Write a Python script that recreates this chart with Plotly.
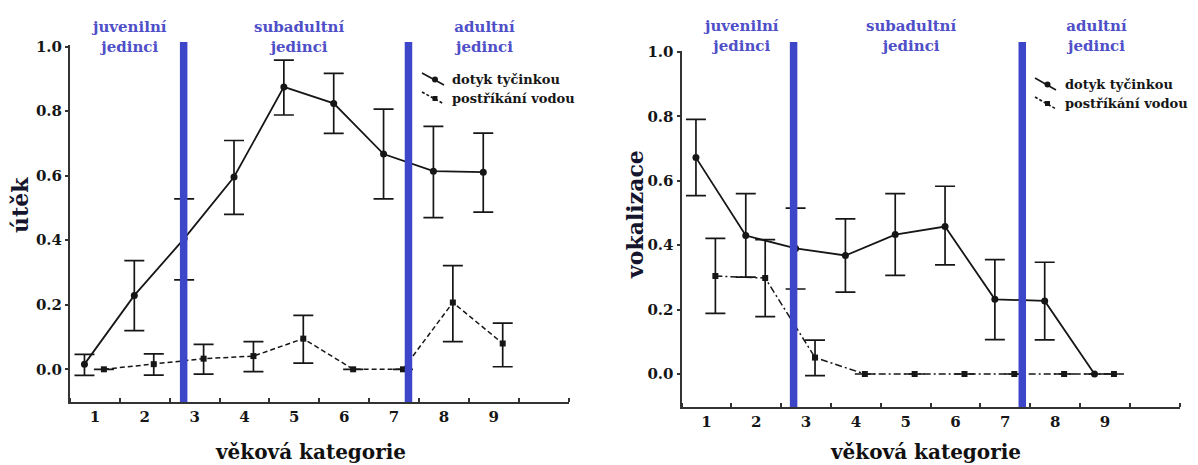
import plotly.graph_objects as go

# ---------------- data ----------------
categories = [1, 2, 3, 4, 5, 6, 7, 8, 9]
tick_labels = ["1", "2", "3", "4", "5", "6", "7", "8", "9"]
legend_names = ["dotyk tyčinkou", "postříkání vodou"]
section_labels = ["juvenilní<br>jedinci", "subadultní<br>jedinci", "adultní<br>jedinci"]
x_title = "věková kategorie"
y_titles = ["útěk", "vokalizace"]

# left panel: útěk
utek_touch = [0.016, 0.229, 0.405, 0.596, 0.875, 0.824, 0.667, 0.614, 0.611]
utek_touch_hi = [0.046, 0.337, 0.528, 0.709, 0.958, 0.917, 0.806, 0.753, 0.732]
utek_touch_lo = [-0.019, 0.120, 0.277, 0.480, 0.788, 0.731, 0.528, 0.470, 0.487]
utek_water = [0.0, 0.016, 0.033, 0.041, 0.095, 0.0, 0.0, 0.207, 0.080]
utek_water_hi = [None, 0.048, 0.077, 0.086, 0.167, None, None, 0.321, 0.143]
utek_water_lo = [None, -0.018, -0.015, -0.007, 0.019, None, None, 0.086, 0.008]

# right panel: vokalizace
vok_touch = [0.672, 0.430, 0.390, 0.368, 0.433, 0.458, 0.232, 0.227, 0.0]
vok_touch_hi = [0.791, 0.560, 0.515, 0.482, 0.560, 0.583, 0.355, 0.347, None]
vok_touch_lo = [0.554, 0.301, 0.264, 0.254, 0.306, 0.339, 0.107, 0.106, None]
vok_water = [0.304, 0.298, 0.051, 0.0, 0.0, 0.0, 0.0, 0.0, 0.0]
vok_water_hi = [0.421, 0.417, 0.105, None, None, None, None, None, None]
vok_water_lo = [0.188, 0.178, -0.005, None, None, None, None, None, None]

# stage boundaries (in category units)
bounds_left = [2.78, 7.29]
bounds_right = [2.75, 7.34]

# ---------------- styling ----------------
FONT = "DejaVu Serif"
INK = "#161616"
BLUE = "#3d45c9"
LBLUE = "#4f4fc8"
TITLE_INK = "#15152e"
OFF_T, OFF_W = -0.21, 0.18

W, H = 1198, 465
OX, OY = 8, 8  # page offset of the plot div


def px(x):
    return (x - OX) / W


def py(y):
    return 1 - (y - OY) / H


def errs(v, hi, lo):
    plus = [None if h is None else h - x for x, h in zip(v, hi)]
    minus = [None if l is None else x - l for x, l in zip(v, lo)]
    return plus, minus


fig = go.Figure()


def add_panel(xa, ya, vt, vth, vtl, vw, vwh, vwl, wdash):
    p, m = errs(vt, vth, vtl)
    fig.add_trace(go.Scatter(
        x=[c + OFF_T for c in categories], y=vt, mode="lines+markers",
        name=legend_names[0], xaxis=xa, yaxis=ya, showlegend=False,
        line=dict(color=INK, width=1.8),
        marker=dict(symbol="circle", size=7, color=INK),
        error_y=dict(type="data", array=p, arrayminus=m, symmetric=False,
                     color=INK, thickness=1.7, width=10)))
    p, m = errs(vw, vwh, vwl)
    fig.add_trace(go.Scatter(
        x=[c + OFF_W for c in categories], y=vw, mode="lines+markers",
        name=legend_names[1], xaxis=xa, yaxis=ya, showlegend=False,
        line=dict(color=INK, width=1.5, dash=wdash),
        marker=dict(symbol="square", size=6, color=INK),
        error_y=dict(type="data", array=p, arrayminus=m, symmetric=False,
                     color=INK, thickness=1.7, width=10)))


add_panel("x", "y", utek_touch, utek_touch_hi, utek_touch_lo,
          utek_water, utek_water_hi, utek_water_lo, "5px,3px")
add_panel("x2", "y2", vok_touch, vok_touch_hi, vok_touch_lo,
          vok_water, vok_water_hi, vok_water_lo, "7px,3px,2px,3px")

tick_font = dict(family=FONT, size=15, color=INK, weight="bold")
xcommon = dict(range=[0.5, 10.5], tickmode="array", tickvals=categories,
               ticktext=tick_labels, ticks="", showline=True, linecolor="#333",
               linewidth=2, showgrid=False, zeroline=False, tickfont=tick_font,
               minor=dict(tick0=0.5, dtick=1, ticks="inside", ticklen=4,
                          tickcolor="#333", tickwidth=1.5, showgrid=False))
ycommon = dict(tickmode="array", tickvals=[0, 0.2, 0.4, 0.6, 0.8, 1.0],
               tickformat=".1f", ticks="outside", ticklen=3, tickwidth=1.5,
               tickcolor="#333", showline=True, linecolor="#333", linewidth=2,
               showgrid=False, zeroline=False, tickfont=tick_font)

fig.update_layout(
    width=W, height=H, margin=dict(l=0, r=0, t=0, b=0, autoexpand=False),
    paper_bgcolor="white", plot_bgcolor="white", showlegend=False,
    xaxis=dict(domain=[px(70), px(568.5)], anchor="y", **xcommon),
    yaxis=dict(domain=[py(402), py(45.3)], anchor="x", range=[-0.1013, 1.004], **ycommon),
    xaxis2=dict(domain=[px(681.5), px(1179.7)], anchor="y2", **xcommon),
    yaxis2=dict(domain=[py(407), py(50.7)], anchor="x2", range=[-0.1025, 1.004], **ycommon),
)

shapes = []
for b in bounds_left:
    shapes.append(dict(type="line", xref="x", yref="paper", x0=b, x1=b,
                       y0=py(402), y1=py(42),
                       line=dict(color=BLUE, width=7.5), layer="above"))
for b in bounds_right:
    shapes.append(dict(type="line", xref="x2", yref="paper", x0=b, x1=b,
                       y0=py(407), y1=py(42),
                       line=dict(color=BLUE, width=7.5), layer="above"))

ann = []
# custom legends (glyph + text) for each panel
leg_specs = [(422, 444, 450, [80, 99]), (1035, 1056, 1063, [85, 104])]
for gx0, gx1, tx, rows in leg_specs:
    for i, (ry, name) in enumerate(zip(rows, legend_names)):
        shapes.append(dict(type="line", xref="paper", yref="paper",
                           x0=px(gx0), x1=px(gx1), y0=py(ry - 7), y1=py(ry + 5),
                           line=dict(color=INK, width=1.6,
                                     dash="solid" if i == 0 else "3px,2px")))
        mx, my = (gx0 + gx1) / 2 + 2, ry - 0.5
        if i == 0:
            shapes.append(dict(type="circle", xref="paper", yref="paper",
                               x0=px(mx - 3), x1=px(mx + 3), y0=py(my + 3), y1=py(my - 3),
                               fillcolor=INK, line=dict(width=0)))
        else:
            shapes.append(dict(type="rect", xref="paper", yref="paper",
                               x0=px(mx - 2.5), x1=px(mx + 2.5), y0=py(my + 2.5), y1=py(my - 2.5),
                               fillcolor=INK, line=dict(width=0)))
        ann.append(dict(x=px(tx), y=py(ry), xref="paper", yref="paper",
                        text="<b>%s</b>" % name, showarrow=False,
                        xanchor="left", yanchor="middle",
                        font=dict(family=FONT, size=13, color=INK)))
fig.update_layout(shapes=shapes)

sec_font = dict(family=FONT, size=15, color=LBLUE)
for xp, lab in zip([129, 298.5, 484], section_labels):
    ann.append(dict(x=px(xp), y=py(37), xref="paper", yref="paper",
                    text="<b>%s</b>" % lab, showarrow=False, font=sec_font,
                    align="center", xanchor="center", yanchor="middle"))
for xp, lab in zip([741, 911, 1096], section_labels):
    ann.append(dict(x=px(xp), y=py(36), xref="paper", yref="paper",
                    text="<b>%s</b>" % lab, showarrow=False, font=sec_font,
                    align="center", xanchor="center", yanchor="middle"))
title_font = dict(family=FONT, size=20, color="#111111")
for xp in [310.5, 925]:
    ann.append(dict(x=px(xp), y=py(452), xref="paper", yref="paper",
                    text="<b>%s</b>" % x_title, showarrow=False, font=title_font,
                    xanchor="center", yanchor="middle"))
ytitle_font = dict(family=FONT, size=22, color=TITLE_INK)
for (xp, yp), t in zip([(20, 205), (635, 215)], y_titles):
    ann.append(dict(x=px(xp), y=py(yp), xref="paper", yref="paper",
                    text="<b>%s</b>" % t, showarrow=False, textangle=-90,
                    xanchor="center", yanchor="middle", font=ytitle_font))
fig.update_layout(annotations=ann)

fig.update_layout(font=dict(family=FONT, color=INK))
fig.write_html("out.html")
